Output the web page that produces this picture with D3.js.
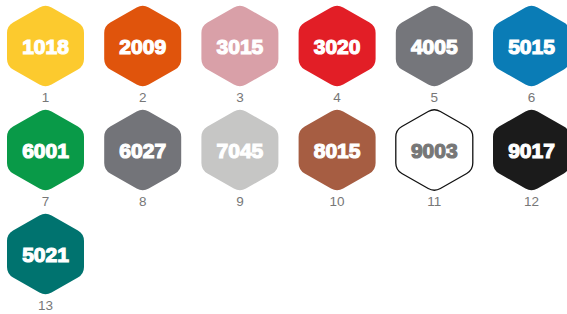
<!DOCTYPE html>
<html>
<head>
<meta charset="utf-8">
<script src="https://cdn.jsdelivr.net/npm/d3@7"></script>
<style>
  body { margin: 0; background: #fff; }
  svg { display: block; }
</style>
</head>
<body>
<svg id="chart"></svg>
<script>
// RAL colour swatches
var codes = ['1018', '2009', '3015', '3020', '4005', '5015', '6001', '6027', '7045', '8015', '9003', '9017', '5021'];
var fills = ['#fcca2e', '#e0540c', '#d9a0a8', '#e21e26', '#75767b', '#0a7cb6', '#099a48', '#737479', '#c6c6c5', '#a65d42', '#ffffff', '#1b1b1b', '#00736f'];
var labels = ['1', '2', '3', '4', '5', '6', '7', '8', '9', '10', '11', '12', '13'];

var width = 567, height = 314, perRow = 6;
var svg = d3.select('#chart').attr('width', width).attr('height', height);

var x = d3.scaleLinear().domain([0, perRow - 1]).range([45.5, 531.5]);
var y = d3.scaleLinear().domain([0, 2]).range([46, 254]);

// squashed pointy-top hexagon with rounded corners
var hw = 38.5, hh = 42, hs = 20, rc = 7;
var pts = [[0, -hh], [hw, -hs], [hw, hs], [0, hh], [-hw, hs], [-hw, -hs]];
function roundedHex() {
    var p = d3.path();
    var n = pts.length;
    for (var i = 0; i < n; i++) {
        var a = pts[(i + n - 1) % n], b = pts[i], c = pts[(i + 1) % n];
        var d1 = Math.hypot(a[0] - b[0], a[1] - b[1]), d2 = Math.hypot(c[0] - b[0], c[1] - b[1]);
        var s = [b[0] + (a[0] - b[0]) * rc / d1, b[1] + (a[1] - b[1]) * rc / d1];
        var e = [b[0] + (c[0] - b[0]) * rc / d2, b[1] + (c[1] - b[1]) * rc / d2];
        if (i === 0) p.moveTo(s[0], s[1]); else p.lineTo(s[0], s[1]);
        p.quadraticCurveTo(b[0], b[1], e[0], e[1]);
    }
    p.closePath();
    return p.toString();
}

var cells = svg.selectAll('g.cell').data(codes).enter().append('g')
    .attr('class', 'cell')
    .attr('transform', function (d, i) {
        return 'translate(' + x(i % perRow) + ',' + y(Math.floor(i / perRow)) + ')';
    });

cells.append('path')
    .attr('d', roundedHex())
    .attr('fill', function (d, i) { return fills[i]; })
    .attr('stroke', function (d, i) { return fills[i] === '#ffffff' ? '#111' : 'none'; })
    .attr('stroke-width', 1.3);

cells.append('text')
    .attr('text-anchor', 'middle')
    .attr('y', 8)
    .attr('font-family', 'Liberation Sans, Arial, sans-serif')
    .attr('font-weight', 'bold')
    .attr('font-size', 21)
    .attr('fill', function (d, i) { return fills[i] === '#ffffff' ? '#777' : '#fff'; })
    .attr('stroke', function (d, i) { return fills[i] === '#ffffff' ? '#777' : '#fff'; })
    .attr('stroke-width', 1.2)
    .text(function (d) { return d; });

cells.append('text')
    .attr('text-anchor', 'middle')
    .attr('y', 56)
    .attr('font-family', 'Liberation Sans, Arial, sans-serif')
    .attr('font-size', 13.5)
    .attr('fill', '#777')
    .text(function (d, i) { return labels[i]; });
</script>
</body>
</html>
